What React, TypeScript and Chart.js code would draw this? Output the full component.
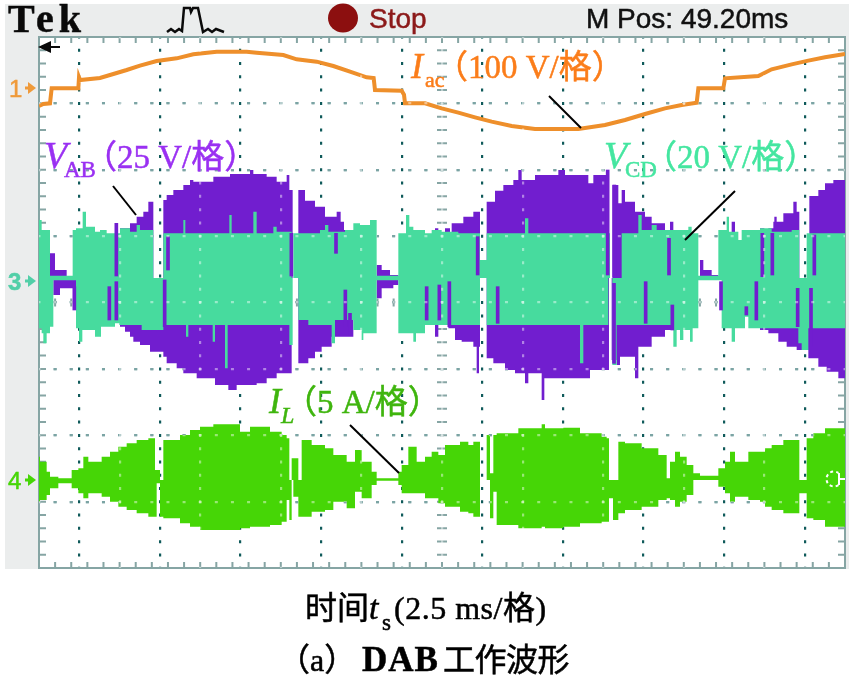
import React, { useEffect, useRef } from "react";
import { Chart, registerables } from "chart.js";

Chart.register(...registerables);

// Readings are in raster levels of the scope screen: x 0..2418 (10 div), y 0..1593 (8 div).
const xMax = 2418;
const yMax = 1593;
const xDiv = 241.8;
const yDiv = 199.125;

const acX = [0, 13, 33, 38, 118, 120, 123, 183, 223, 263, 303, 353, 413, 463, 533, 623, 653, 733, 773, 833, 883, 933, 983, 1004, 1008, 1088, 1095, 1098, 1158, 1208, 1258, 1308, 1358, 1418, 1488, 1618, 1698, 1758, 1818, 1878, 1928, 1973, 1978, 2053, 2058, 2158, 2198, 2258, 2308, 2358, 2418];
const acY = [1386, 1392, 1394, 1439, 1439, 1472, 1464, 1470, 1482, 1494, 1507, 1521, 1529, 1541, 1549, 1549, 1546, 1539, 1526, 1519, 1506, 1489, 1472, 1470, 1434, 1432, 1420, 1394, 1394, 1379, 1366, 1352, 1339, 1326, 1317, 1317, 1329, 1344, 1362, 1379, 1389, 1396, 1439, 1439, 1469, 1476, 1496, 1511, 1522, 1532, 1542];

const abCenter = 870;
const abTopX = [0, 33, 48, 83, 113, 243, 273, 293, 313, 328, 343, 373, 383, 403, 433, 453, 463, 523, 573, 633, 643, 683, 713, 743, 751, 761, 778, 798, 828, 858, 893, 905, 915, 928, 943, 1013, 1028, 1053, 1078, 1188, 1198, 1218, 1233, 1238, 1273, 1303, 1323, 1343, 1368, 1393, 1423, 1438, 1448, 1488, 1558, 1578, 1648, 1663, 1708, 1720, 1738, 1748, 1758, 1788, 1818, 1838, 1878, 1893, 1903, 1983, 1993, 2018, 2038, 2078, 2088, 2163, 2176, 2188, 2203, 2206, 2213, 2233, 2263, 2273, 2281, 2311, 2338, 2358, 2383, 2418];
const abTopY = [870, 944, 894, 876, 870, 1019, 1034, 1054, 1069, 1099, 870, 1104, 1119, 1134, 1149, 1164, 1159, 1174, 1182, 1194, 1182, 1174, 1159, 1179, 1134, 870, 1134, 1102, 1084, 1054, 1069, 1039, 1014, 1004, 870, 909, 894, 879, 870, 1019, 870, 1019, 870, 1034, 1054, 1069, 870, 1099, 1132, 1149, 1164, 1194, 1164, 1179, 1194, 1179, 1154, 1179, 870, 1149, 1094, 1134, 1099, 1069, 1054, 1034, 1014, 1039, 870, 924, 894, 879, 870, 1039, 870, 1019, 870, 1019, 1039, 1054, 1039, 1064, 1099, 1069, 870, 1116, 1134, 1154, 1164, 1164];
const abBotX = [0, 43, 63, 111, 243, 258, 273, 283, 303, 333, 373, 383, 413, 433, 473, 528, 568, 593, 653, 683, 713, 758, 778, 808, 828, 848, 878, 943, 1013, 1028, 1063, 1078, 1188, 1198, 1228, 1248, 1268, 1303, 1313, 1320, 1323, 1343, 1363, 1398, 1428, 1458, 1468, 1508, 1516, 1583, 1653, 1710, 1718, 1733, 1743, 1788, 1798, 1838, 1878, 1903, 2163, 2188, 2218, 2243, 2273, 2308, 2338, 2363, 2398, 2418];
const abBotY = [870, 819, 839, 870, 724, 709, 694, 679, 669, 649, 634, 614, 599, 584, 569, 549, 534, 549, 554, 569, 584, 870, 614, 629, 649, 664, 694, 870, 809, 839, 849, 870, 694, 870, 719, 684, 679, 664, 584, 664, 870, 629, 614, 594, 584, 554, 584, 504, 569, 569, 594, 870, 624, 609, 634, 569, 664, 694, 714, 870, 714, 704, 679, 664, 654, 629, 604, 589, 569, 569];

const cdTopX = [0, 8, 33, 101, 111, 131, 141, 168, 183, 203, 243, 273, 293, 303, 343, 373, 433, 439, 571, 578, 643, 653, 703, 713, 758, 763, 778, 843, 858, 868, 918, 943, 963, 993, 1013, 1078, 1101, 1111, 1123, 1158, 1178, 1208, 1258, 1323, 1343, 1458, 1468, 1703, 1713, 1748, 1798, 1808, 1838, 1853, 1893, 1948, 1958, 1978, 2038, 2063, 2070, 2098, 2108, 2163, 2198, 2258, 2281, 2303, 2418];
const cdTopY = [1044, 1014, 877, 1014, 1019, 1069, 1024, 1009, 1014, 1004, 1019, 1009, 1029, 1014, 870, 1004, 1044, 1004, 1059, 1004, 1069, 1004, 1024, 1009, 870, 1004, 1004, 1014, 1029, 1009, 1014, 1034, 1029, 1044, 877, 1004, 1059, 1024, 1014, 1004, 1014, 1009, 1004, 924, 1004, 1049, 1004, 1004, 870, 1004, 1059, 1014, 1029, 1014, 1014, 1024, 1004, 877, 1014, 1054, 1009, 984, 1014, 1019, 1009, 1014, 870, 1004, 1004];
const cdBotX = [0, 8, 13, 23, 33, 43, 111, 120, 130, 168, 186, 228, 241, 308, 373, 441, 448, 521, 528, 558, 566, 751, 761, 778, 808, 878, 888, 943, 968, 973, 1013, 1078, 1123, 1131, 1158, 1323, 1343, 1623, 1633, 1708, 1720, 1733, 1898, 1903, 1913, 1923, 1933, 1953, 1961, 1978, 2048, 2078, 2088, 2118, 2128, 2278, 2288, 2308, 2418];
const cdBotY = [719, 704, 674, 704, 724, 863, 719, 679, 714, 694, 724, 734, 729, 714, 729, 694, 729, 679, 729, 599, 729, 669, 870, 744, 729, 674, 744, 714, 684, 704, 863, 704, 679, 704, 729, 870, 729, 614, 729, 870, 609, 729, 714, 664, 714, 684, 714, 679, 719, 863, 719, 679, 719, 754, 719, 674, 654, 719, 719];

// Short purple excursions that show through the teal trace: position, low, high.
const abSpikeX = [106, 211, 232, 232, 377, 387, 757, 891, 919, 933, 1163, 1201, 1231, 1316, 1376, 1706, 1725, 1726, 1820, 1890, 1900, 2046, 2122, 2152, 2170, 2200, 2276, 2316, 2326];
const abSpikeLo = [774, 744, 876, 744, 724, 894, 876, 944, 724, 699, 744, 744, 724, 879, 734, 879, 614, 874, 734, 879, 714, 774, 759, 744, 874, 879, 724, 664, 879];
const abSpikeHi = [844, 844, 1034, 859, 864, 994, 1004, 1004, 834, 764, 844, 849, 859, 994, 844, 1194, 854, 1149, 859, 989, 789, 859, 784, 859, 1004, 1004, 839, 839, 999];

const ilCenter = 264;
const ilTopX = [0, 3, 23, 33, 58, 98, 118, 133, 148, 188, 213, 238, 263, 293, 328, 348, 363, 373, 423, 453, 483, 523, 603, 633, 693, 728, 743, 751, 758, 778, 788, 818, 858, 883, 923, 948, 968, 998, 1013, 1078, 1088, 1108, 1133, 1158, 1178, 1198, 1218, 1263, 1288, 1303, 1323, 1343, 1353, 1363, 1373, 1438, 1508, 1518, 1573, 1623, 1688, 1703, 1710, 1738, 1758, 1808, 1858, 1883, 1893, 1908, 1923, 1943, 1963, 1983, 2038, 2058, 2073, 2088, 2128, 2163, 2178, 2198, 2233, 2281, 2303, 2323, 2358, 2418];
const ilTopY = [334, 319, 289, 274, 269, 294, 299, 334, 319, 334, 349, 364, 374, 384, 389, 294, 254, 384, 399, 414, 424, 431, 409, 424, 409, 399, 389, 264, 329, 259, 384, 369, 359, 339, 319, 354, 319, 289, 269, 289, 309, 364, 319, 334, 349, 339, 369, 379, 369, 379, 264, 399, 284, 399, 404, 419, 431, 419, 421, 404, 394, 389, 264, 379, 374, 359, 339, 269, 319, 349, 334, 309, 284, 277, 299, 319, 349, 319, 349, 349, 359, 369, 384, 264, 389, 404, 419, 419];
const ilBotX = [0, 3, 23, 33, 58, 98, 118, 133, 148, 188, 213, 238, 263, 293, 328, 353, 363, 373, 423, 453, 483, 603, 633, 693, 728, 743, 751, 758, 763, 778, 818, 858, 883, 923, 948, 968, 998, 1013, 1078, 1088, 1133, 1158, 1198, 1218, 1263, 1288, 1303, 1323, 1353, 1363, 1373, 1438, 1508, 1518, 1573, 1623, 1688, 1710, 1722, 1738, 1758, 1808, 1858, 1883, 1893, 1908, 1923, 1943, 1963, 2038, 2058, 2073, 2088, 2128, 2163, 2178, 2198, 2233, 2281, 2303, 2323, 2358, 2418];
const ilBotY = [199, 204, 219, 239, 254, 239, 224, 209, 224, 214, 199, 184, 174, 164, 154, 254, 154, 149, 134, 124, 114, 119, 124, 129, 139, 204, 144, 264, 214, 154, 169, 174, 199, 179, 229, 209, 249, 262, 249, 224, 224, 209, 194, 184, 169, 164, 154, 264, 149, 229, 129, 119, 124, 119, 124, 134, 139, 209, 144, 164, 174, 184, 204, 209, 204, 184, 199, 219, 264, 244, 224, 199, 214, 204, 199, 184, 174, 164, 224, 149, 144, 124, 124];

const FONT = '"Liberation Serif","Noto Sans CJK SC"';
type Piece = [string, number, number, string, string, number?];
// text, left, baseline, font, colour, letter spacing
const labels: Piece[] = [
  ["Tek", 8, 32, `bold 40px ${FONT}`, "#0a0a0a", 5],
  ["Stop", 369, 28, '28px "Liberation Sans"', "#8c1a1a"],
  ["M Pos: 49.20ms", 586, 28, '28px "Liberation Sans"', "#111111"],
  ["1", 9, 97, '24px "Liberation Sans"', "#ef9a3a"],
  ["3", 8, 290, 'bold 24px "Liberation Sans"', "#52cfa8"],
  ["4", 8, 489, '24px "Liberation Sans"', "#46d606"],
  ["I", 411, 78, `italic 36px ${FONT}`, "#fb7d1a"],
  ["ac", 425, 87, `22px ${FONT}`, "#fb7d1a"],
  ["（100 V/格）", 435, 78, `33px ${FONT}`, "#fb7d1a"],
  ["V", 44, 168, `italic 38px ${FONT}`, "#9a30f2"],
  ["AB", 64, 177, `23px ${FONT}`, "#9a30f2"],
  ["（25 V/格）", 84, 168, `33px ${FONT}`, "#9a30f2"],
  ["V", 604, 168, `italic 38px ${FONT}`, "#44e6a0"],
  ["CD", 625, 177, `23px ${FONT}`, "#44e6a0"],
  ["（20 V/格）", 644, 168, `33px ${FONT}`, "#44e6a0"],
  ["I", 269, 413, `italic 36px ${FONT}`, "#3fb50e"],
  ["L", 281, 423, `italic 24px ${FONT}`, "#3fb50e"],
  ["（5 A/格）", 284, 413, `33px ${FONT}`, "#3fb50e"],
  ["时间", 305, 619, `32px ${FONT}`, "#000000"],
  ["t", 369, 619, `italic 34px ${FONT}`, "#000000"],
  ["s", 382, 630, `23px ${FONT}`, "#000000"],
  ["(2.5 ms/格)", 394, 619, `32px ${FONT}`, "#000000", 0.5],
  ["（a）", 278, 671, `32px ${FONT}`, "#000000"],
  ["DAB", 362, 671, `bold 35px ${FONT}`, "#000000", 1],
  ["工作波形", 443, 671, `32px ${FONT}`, "#000000", -0.5],
];

const zip = (xs: number[], ys: number[]) => xs.map((x, i) => ({ x, y: ys[i] }));

const band = (xs: number[], ys: number[], center: number, color: string, order: number) => ({
  type: "line" as const,
  data: zip(xs, ys),
  borderWidth: 0,
  pointRadius: 0,
  stepped: true,
  backgroundColor: color,
  borderColor: color,
  fill: { value: center },
  order,
  xAxisID: "x",
  yAxisID: "y",
});

const screenPlugin = {
  id: "screen",
  beforeDraw(chart: any) {
    const { ctx } = chart;
    ctx.save();
    ctx.fillStyle = "#ffffff";
    ctx.fillRect(0, 0, 851, 677);
    ctx.fillStyle = "#ebeded";
    ctx.fillRect(5, 4, 844, 565);
    const a = chart.chartArea;
    ctx.fillStyle = "#ffffff";
    ctx.fillRect(a.left, a.top, a.right - a.left, a.bottom - a.top);
    ctx.restore();
  },
  beforeDatasetsDraw(chart: any) {
    const { ctx, chartArea: a, scales } = chart;
    const xs = scales.x;
    const ys = scales.y;
    ctx.save();
    ctx.strokeStyle = "#86a5a4";
    ctx.lineWidth = 2;
    ctx.strokeRect(a.left, a.top, a.right - a.left, a.bottom - a.top);
    ctx.lineWidth = 2;
    ctx.beginPath();
    for (let i = 0; i <= 50; i++) {
      const px = xs.getPixelForValue((i * xDiv) / 5);
      ctx.moveTo(px, a.top);
      ctx.lineTo(px, a.top + 6);
      ctx.moveTo(px, a.bottom);
      ctx.lineTo(px, a.bottom - 6);
      const cy = ys.getPixelForValue(yMax / 2);
      ctx.moveTo(px, cy - 4);
      ctx.lineTo(px, cy + 4);
    }
    for (let i = 0; i <= 40; i++) {
      const py = ys.getPixelForValue((i * yDiv) / 5);
      ctx.moveTo(a.left, py);
      ctx.lineTo(a.left + 7, py);
      ctx.moveTo(a.right, py);
      ctx.lineTo(a.right - 7, py);
      const cx = xs.getPixelForValue(xMax / 2);
      ctx.moveTo(cx - 5, py);
      ctx.lineTo(cx + 5, py);
    }
    ctx.stroke();
    ctx.restore();
  },
  afterDraw(chart: any) {
    const { ctx } = chart;
    ctx.save();
    // time reference arrow
    ctx.fillStyle = "#0a0a0a";
    ctx.strokeStyle = "#0a0a0a";
    ctx.beginPath();
    ctx.moveTo(38, 47);
    ctx.lineTo(51, 41);
    ctx.lineTo(51, 53);
    ctx.closePath();
    ctx.fill();
    ctx.lineWidth = 2;
    ctx.beginPath();
    ctx.moveTo(50, 47);
    ctx.lineTo(60, 47);
    ctx.stroke();
    // acquisition pulse icon
    ctx.lineWidth = 2.5;
    ctx.beginPath();
    const pulse = [[167, 32], [171, 29], [175, 32], [179, 29], [182, 31], [184, 8], [190, 8], [191, 12], [193, 8], [198, 8], [203, 32], [208, 29], [212, 32], [216, 29], [224, 32]];
    pulse.forEach(([x, y], i) => (i ? ctx.lineTo(x, y) : ctx.moveTo(x, y)));
    ctx.stroke();
    // stop lamp
    ctx.fillStyle = "#8c0f0f";
    ctx.beginPath();
    ctx.ellipse(343, 18, 15, 14.5, 0, 0, Math.PI * 2);
    ctx.fill();
    // channel pointers
    const arrows: [number, string][] = [[88, "#ef9a3a"], [281, "#52cfa8"], [480, "#46d606"]];
    arrows.forEach(([y, c]) => {
      ctx.fillStyle = c;
      ctx.beginPath();
      ctx.moveTo(36, y);
      ctx.lineTo(28, y - 6);
      ctx.lineTo(28, y + 6);
      ctx.closePath();
      ctx.fill();
      ctx.fillRect(25, y - 1.5, 5, 3);
    });
    // leader lines
    ctx.strokeStyle = "#000000";
    ctx.lineWidth = 2;
    const leaders = [[113, 186, 136, 215], [549, 96, 581, 128], [735, 191, 685, 240], [350, 425, 399, 473]];
    leaders.forEach(([x1, y1, x2, y2]) => {
      ctx.beginPath();
      ctx.moveTo(x1, y1);
      ctx.lineTo(x2, y2);
      ctx.stroke();
    });
    // ground marker on the current trace
    ctx.strokeStyle = "#ffffff";
    ctx.lineWidth = 2;
    ctx.setLineDash([3, 3]);
    ctx.beginPath();
    ctx.arc(834, 479, 7.5, Math.PI * 0.3, Math.PI * 1.7);
    ctx.stroke();
    ctx.setLineDash([]);
    ctx.beginPath();
    ctx.moveTo(839, 473);
    ctx.lineTo(839, 485);
    ctx.moveTo(839, 479);
    ctx.lineTo(845, 479);
    ctx.stroke();
    // text
    ctx.textBaseline = "alphabetic";
    ctx.textAlign = "left";
    labels.forEach(([text, x, y, font, color, spacing]) => {
      ctx.font = font;
      ctx.letterSpacing = `${spacing ?? 0}px`;
      ctx.fillStyle = color;
      ctx.strokeStyle = color;
      ctx.lineWidth = 0.5;
      ctx.fillText(text, x, y);
      ctx.strokeText(text, x, y);
    });
    ctx.restore();
  },
};

const axis = (max: number, step: number, color: string, z: number, dash: number[]) => ({
  type: "linear" as const,
  min: 0,
  max,
  offset: false,
  display: true,
  afterBuildTicks: (s: any) => {
    const t: any[] = [];
    for (let i = 1; i * step < max - 1; i++) t.push({ value: i * step });
    s.ticks = t;
  },
  ticks: { display: false },
  border: { display: false, dash, dashOffset: 1.5 },
  grid: { color, lineWidth: 2.2, drawTicks: false, z },
});

export default function App() {
  const ref = useRef<HTMLCanvasElement>(null);
  useEffect(() => {
    if (!ref.current) return;
    const spike = {
      type: "bar" as const,
      data: abSpikeX.map((x, i) => ({ x, y: [abSpikeLo[i], abSpikeHi[i]] })),
      backgroundColor: "#711ecf",
      barThickness: 3,
      grouped: false,
      order: 1,
      xAxisID: "x",
      yAxisID: "y",
    };
    const chart = new Chart(ref.current, {
      type: "line",
      data: {
        datasets: [
          {
            type: "line",
            label: "Iac",
            data: zip(acX, acY),
            borderColor: "#ee8f2b",
            backgroundColor: "#ee8f2b",
            borderWidth: 4,
            pointRadius: 0,
            tension: 0,
            order: 0,
            xAxisID: "x",
            yAxisID: "y",
          } as any,
          spike as any,
          band(cdTopX, cdTopY, abCenter, "#47db9e", 2) as any,
          band(cdBotX, cdBotY, abCenter, "#47db9e", 2) as any,
          band(abTopX, abTopY, abCenter, "#711ecf", 3) as any,
          band(abBotX, abBotY, abCenter, "#711ecf", 3) as any,
          band(ilTopX, ilTopY, ilCenter, "#46d606", 4) as any,
          band(ilBotX, ilBotY, ilCenter, "#46d606", 4) as any,
        ],
      },
      options: {
        responsive: false,
        animation: false,
        layout: { padding: { left: 39, top: 37, right: 6, bottom: 109 } },
        plugins: { legend: { display: false }, tooltip: { enabled: false }, title: { display: false } },
        scales: {
          x: axis(xMax, xDiv, "#0f5a5a", -1, [3, 10.28]) as any,
          y: axis(yMax, yDiv, "#0f5a5a", -1, [3, 13.12]) as any,
          x2: { ...axis(xMax, xDiv, "rgba(255,255,255,0.45)", 1, [3, 10.28]), position: "bottom" } as any,
          y2: { ...axis(yMax, yDiv, "rgba(255,255,255,0.45)", 1, [3, 13.12]), position: "left" } as any,
        },
      },
      plugins: [screenPlugin as any],
    });
    return () => chart.destroy();
  }, []);
  return (
    <div style={{ position: "absolute", left: 0, top: 0, width: 851, height: 677 }}>
      <canvas ref={ref} width={851} height={677} style={{ display: "block" }} />
    </div>
  );
}
